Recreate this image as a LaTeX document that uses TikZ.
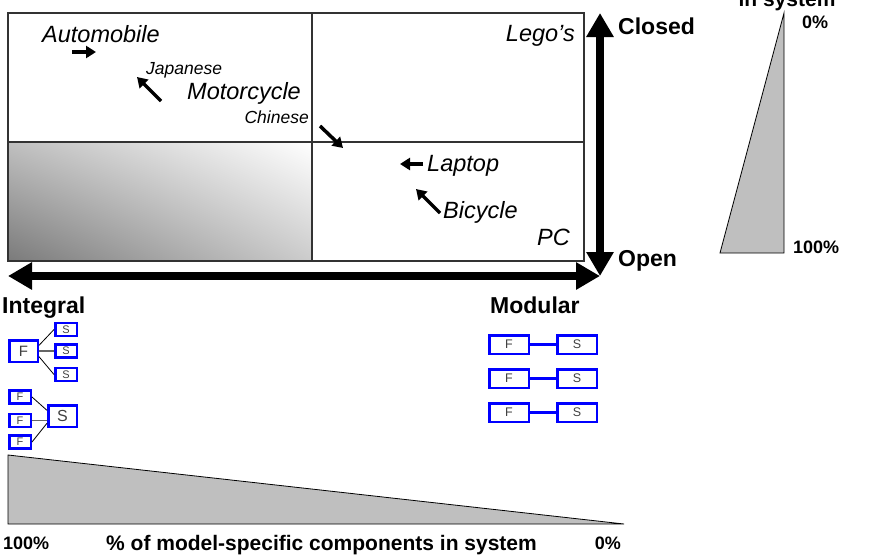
\documentclass[tikz,border=0pt]{standalone}
\usepackage{fontspec}
\setmainfont{Liberation Sans}
\usetikzlibrary{arrows.meta,shadings}
\begin{document}
\begin{tikzpicture}[x=1pt,y=-1pt,
  lbl/.style={font=\fontsize{23.5}{28}\selectfont\itshape, inner sep=0pt},
  slbl/.style={font=\fontsize{17.5}{21}\selectfont\itshape, inner sep=0pt},
  blbl/.style={font=\fontsize{23}{28}\selectfont\bfseries, inner sep=0pt},
  pct/.style={font=\fontsize{18}{22}\selectfont\bfseries, inner sep=0pt},
  axlbl/.style={font=\fontsize{21}{25}\selectfont\bfseries, inner sep=0pt},
  ptr/.style={line width=3.5pt, -{Triangle[length=10pt,width=12pt]}},
  bigarr/.style={line width=8pt, {Triangle[length=24pt,width=26pt]}-{Triangle[length=24pt,width=26pt]}},
  fsbox/.style={draw=blue, line width=2.5pt, inner sep=0pt, text=black!75},
  tinybox/.style={fsbox, minimum width=21.5pt, minimum height=13pt, font=\fontsize{11}{12}\selectfont},
  bigbox/.style={fsbox, minimum width=28.5pt, minimum height=21.5pt, font=\fontsize{15}{16}\selectfont},
  modbox/.style={fsbox, minimum width=39.5pt, minimum height=18.5pt, font=\fontsize{12.5}{14}\selectfont},
  thinlink/.style={black, line width=0.8pt},
  midlink/.style={black!60, line width=1.6pt},
  modlink/.style={blue, line width=2.5pt},
  frame/.style={draw=black!80, line width=1.1pt},
  wedge/.style={fill=black!25, draw=black, line width=0.8pt},
]
\useasboundingbox (0,0) rectangle (869,554);

% quadrant chart
\shade[upper left=black!25, upper right=white, lower left=black!52, lower right=black!20]
  (8,142) rectangle (312,261);
\draw[frame] (8,13) rectangle (584,261);
\draw[frame] (312,13) -- (312,261);
\draw[frame] (8,142) -- (584,142);

% labels in chart
\node[lbl, anchor=base west] (auto) at (42,42) {Automobile};
\node[slbl, anchor=base west] (jap) at (146,74) {Japanese};
\node[lbl, anchor=base west] (moto) at (187,99) {Motorcycle};
\node[slbl, anchor=base east] (chin) at (309,123) {Chinese};
\node[lbl, anchor=base east] (lego) at (575,41.5) {Lego’s};
\node[lbl, anchor=base west] (lap) at (427,171.5) {Laptop};
\node[lbl, anchor=base west] (bic) at (443,218.5) {Bicycle};
\node[lbl, anchor=base east] (pc) at (570,245.5) {PC};

% pointer arrows
\coordinate (a1) at (72,52);   \coordinate (a2) at (96,52);
\coordinate (j1) at (161,101); \coordinate (j2) at (137,77);
\coordinate (c1) at (320,126); \coordinate (c2) at (343,148);
\coordinate (l1) at (423,164); \coordinate (l2) at (400,164);
\coordinate (b1) at (440,213); \coordinate (b2) at (416,189);
\draw[ptr] (a1) -- (a2);
\draw[ptr] (j1) -- (j2);
\draw[ptr] (c1) -- (c2);
\draw[ptr] (l1) -- (l2);
\draw[ptr] (b1) -- (b2);

% axes
\coordinate (vtop) at (600,13);
\coordinate (corner) at (600,276);
\coordinate (hleft) at (8,276);
\draw[bigarr] (vtop) -- (corner);
\draw[bigarr] (hleft) -- (corner);
\node[blbl, anchor=base west] (closed) at (618,34) {Closed};
\node[blbl, anchor=base west] (open) at (618,266) {Open};
\node[blbl, anchor=base west] (integral) at (2,313) {Integral};
\node[blbl, anchor=base west] (modular) at (490,313) {Modular};

% right wedge
\coordinate (rw1) at (784,13);
\coordinate (rw2) at (784,253);
\coordinate (rw3) at (720,253);
\draw[wedge] (rw1) -- (rw2) -- (rw3) -- cycle;
\node[axlbl, anchor=base] (insys) at (787,6) {in system};
\node[pct, anchor=base west] (rz) at (802,28.5) {0\%};
\node[pct, anchor=base west] (rh) at (793,253.5) {100\%};

% bottom wedge
\coordinate (bw1) at (8,455);
\coordinate (bw2) at (8,524);
\coordinate (bw3) at (624,524);
\draw[wedge] (bw1) -- (bw2) -- (bw3) -- cycle;
\node[pct, anchor=base west] (bh) at (3,549.5) {100\%};
\node[axlbl, anchor=base west] (bl) at (106,550.5) {\% of model-specific components in system};
\node[pct, anchor=base east] (bz) at (621,549.5) {0\%};

% integral: one F, three S
\node[bigbox] (F) at (23.5,351) {F};
\node[tinybox] (S1) at (66,329.5) {S};
\node[tinybox] (S2) at (66,351) {S};
\node[tinybox] (S3) at (66,374.5) {S};
\draw[thinlink] (F.20) -- (S1.west);
\draw[midlink] (F.east) -- (S2.west);
\draw[thinlink] (F.-20) -- (S3.west);

% integral: three F, one S
\node[tinybox] (F1) at (20,397) {F};
\node[tinybox] (F2) at (20,420.5) {F};
\node[tinybox] (F3) at (20,442) {F};
\node[bigbox, font=\fontsize{16}{17}\selectfont] (S) at (62.5,416) {S};
\draw[thinlink] (F1.east) -- (S.160);
\draw[midlink] (F2.east) -- (S.west |- F2.east);
\draw[thinlink] (F3.east) -- (S.205);

% modular
\foreach \i/\y in {1/344.5, 2/378.5, 3/412.5} {
  \node[modbox] (MF\i) at (509,\y) {F};
  \node[modbox] (MS\i) at (577,\y) {S};
  \draw[modlink] (MF\i) -- (MS\i);
}
\end{tikzpicture}
\end{document}
